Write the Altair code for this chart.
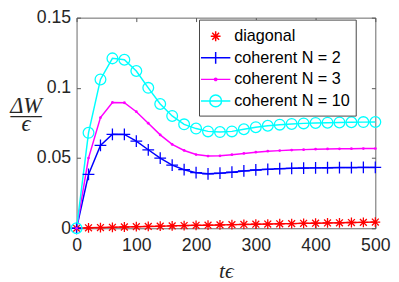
import altair as alt
import pandas as pd

t_vals = list(range(0, 501, 20))

diagonal = [0, 0.0003, 0.0005, 0.0007, 0.0009, 0.0011, 0.0013, 0.0015, 0.0017,
            0.0019, 0.0021, 0.0022, 0.0024, 0.0026, 0.0027, 0.0029, 0.0030,
            0.0032, 0.0033, 0.0035, 0.0036, 0.0038, 0.0039, 0.0041, 0.0042, 0.0044]
coh_n2 = [0, 0.0383, 0.059, 0.0669, 0.0668, 0.062, 0.0559, 0.050, 0.045, 0.0417,
          0.0396, 0.0388, 0.0392, 0.0399, 0.0408, 0.0415, 0.042, 0.0424, 0.0427,
          0.0429, 0.043, 0.0431, 0.0432, 0.0432, 0.0433, 0.0433]
coh_n3 = [0, 0.050, 0.0788, 0.0896, 0.0894, 0.083, 0.0748, 0.0665, 0.0597, 0.0554,
          0.0525, 0.0514, 0.0516, 0.0524, 0.0533, 0.0542, 0.0549, 0.0553, 0.0557,
          0.056, 0.0563, 0.0565, 0.0566, 0.0567, 0.0568, 0.0568]
coh_n10 = [0, 0.068, 0.106, 0.121, 0.120, 0.112, 0.100, 0.0885, 0.080, 0.074,
           0.071, 0.069, 0.0685, 0.069, 0.0705, 0.072, 0.073, 0.0738, 0.0743,
           0.0747, 0.075, 0.0752, 0.0754, 0.0755, 0.0756, 0.0757]

series_names = ["diagonal", "coherent N = 2", "coherent N = 3", "coherent N = 10"]
series_values = [diagonal, coh_n2, coh_n3, coh_n10]
x_ticks = [0, 100, 200, 300, 400, 500]
y_ticks = [0, 0.05, 0.1, 0.15]

rows = []
for name, vals in zip(series_names, series_values):
    for tv, v in zip(t_vals, vals):
        rows.append({"t": tv, "W": v, "series": name})
df = pd.DataFrame(rows)

colors = ["#FF0000", "#0000FF", "#FF00FF", "#00FFFF"]
AST = "M-1,0L1,0M0,-1L0,1M-0.7,-0.7L0.7,0.7M-0.7,0.7L0.7,-0.7"
PLUS = "M-1,0L1,0M0,-1L0,1"
marker_styles = [(AST, 100, 1.3), (PLUS, 144, 1.3), ("circle", 8, 1.6), ("circle", 120, 1.3)]

L_AST = "M0,-0.5L0,0.5M-0.5,0L0.5,0M-0.35,-0.35L0.35,0.35M-0.35,0.35L0.35,-0.35"
L_PLUS = "M-1.5,0L1.5,0M0,-0.6L0,0.6"
L_DOT = "M-1.5,0L1.5,0M-0.12,0A0.12,0.12 0 1,0 0.12,0A0.12,0.12 0 1,0 -0.12,0"
# circle traced forward then backward: zero winding, so it is never filled
L_CIRC = ("M-1.5,0L1.5,0"
          "M-0.6,0A0.6,0.6 0 0,0 0.6,0A0.6,0.6 0 0,0 -0.6,0"
          "A0.6,0.6 0 0,1 0.6,0A0.6,0.6 0 0,1 -0.6,0")

shape_signal = (
    "datum.value === 'diagonal' ? '" + L_AST + "' : "
    "datum.value === 'coherent N = 2' ? '" + L_PLUS + "' : "
    "datum.value === 'coherent N = 3' ? '" + L_DOT + "' : '" + L_CIRC + "'"
)

legend = alt.Legend(
    title=None,
    orient="none",
    legendX=125,
    legendY=2,
    symbolSize=400,
    symbolType=alt.ExprRef(expr=shape_signal),
    symbolStrokeWidth=1.5,
    symbolFillColor="transparent",
    labelFont="Liberation Sans",
    labelFontSize=16.5,
    labelColor="#000000",
    labelOffset=8,
    padding=6,
    rowPadding=2,
    strokeColor="#444444",
    fillColor="#FFFFFF",
)

xs = alt.Scale(domain=[0, 500], nice=False, zero=False)
ys = alt.Scale(domain=[0, 0.15], nice=False)
cs = alt.Scale(domain=series_names, range=colors)

ax_main_x = alt.Axis(values=x_ticks, ticks=False, domain=False, grid=False,
                     labelFlush=False, labelPadding=9, title="tϵ",
                     titleFont="Liberation Serif",
                     titleFontStyle="italic", titleFontWeight="normal",
                     titleFontSize=22, titleColor="#262626",
                     titleBaseline="alphabetic", titleY=50)
ax_main_y = alt.Axis(values=y_ticks, format=".2~f", ticks=False, domain=False,
                     grid=False, labelFlush=False, labelPadding=6,
                     title=["ΔW", "—–", "ϵ"], titleFont="Liberation Serif",
                     titleFontStyle="italic", titleFontWeight="normal",
                     titleFontSize=23, titleColor="#262626", titleAngle=0,
                     titleAlign="center", titleBaseline="alphabetic",
                     titleX=-52, titleY=97, titleLineHeight=9)

def tick_axis(orient, values):
    return alt.Axis(orient=orient, values=values, labels=False, domain=False,
                    grid=False, ticks=True, tickSize=4, tickColor="#555555",
                    offset=-4, title=None)

base = alt.Chart(df)

lines = base.mark_line(strokeWidth=1.5).encode(
    x=alt.X("t:Q", scale=xs, axis=ax_main_x),
    y=alt.Y("W:Q", scale=ys, axis=ax_main_y),
    stroke=alt.Stroke("series:N", scale=cs, sort=series_names, legend=legend),
)

point_layers = []
for i, (name, (shp, sz, sw)) in enumerate(zip(series_names, marker_styles)):
    if i == 0:
        xa, ya = tick_axis("bottom", x_ticks), tick_axis("left", y_ticks)
    else:
        xa, ya = None, None
    point_layers.append(
        base.transform_filter(alt.datum.series == name)
        .mark_point(filled=(shp == "circle" and sz < 20), shape=shp, size=sz,
                    strokeWidth=sw, opacity=1)
        .encode(
            x=alt.X("t:Q", scale=xs, axis=xa),
            y=alt.Y("W:Q", scale=ys, axis=ya),
            color=alt.Color("series:N", scale=cs, sort=series_names, legend=None),
        )
    )

ghost = base.mark_point(opacity=0).encode(
    x=alt.X("t:Q", scale=xs, axis=tick_axis("top", x_ticks)),
    y=alt.Y("W:Q", scale=ys, axis=tick_axis("right", y_ticks)),
)

chart = alt.layer(lines, *point_layers, ghost).resolve_axis(
    x="independent", y="independent"
).properties(
    width=305, height=215,
    autosize=alt.AutoSizeParams(type="none"),
    padding={"left": 70, "top": 7, "right": 16, "bottom": 52},
).configure_axis(
    labelFont="Liberation Sans", labelFontSize=18, labelColor="#262626",
).configure_view(
    stroke="#666666", strokeWidth=1,
)

chart.save("out.html", embed_options={"renderer": "svg", "actions": False})
